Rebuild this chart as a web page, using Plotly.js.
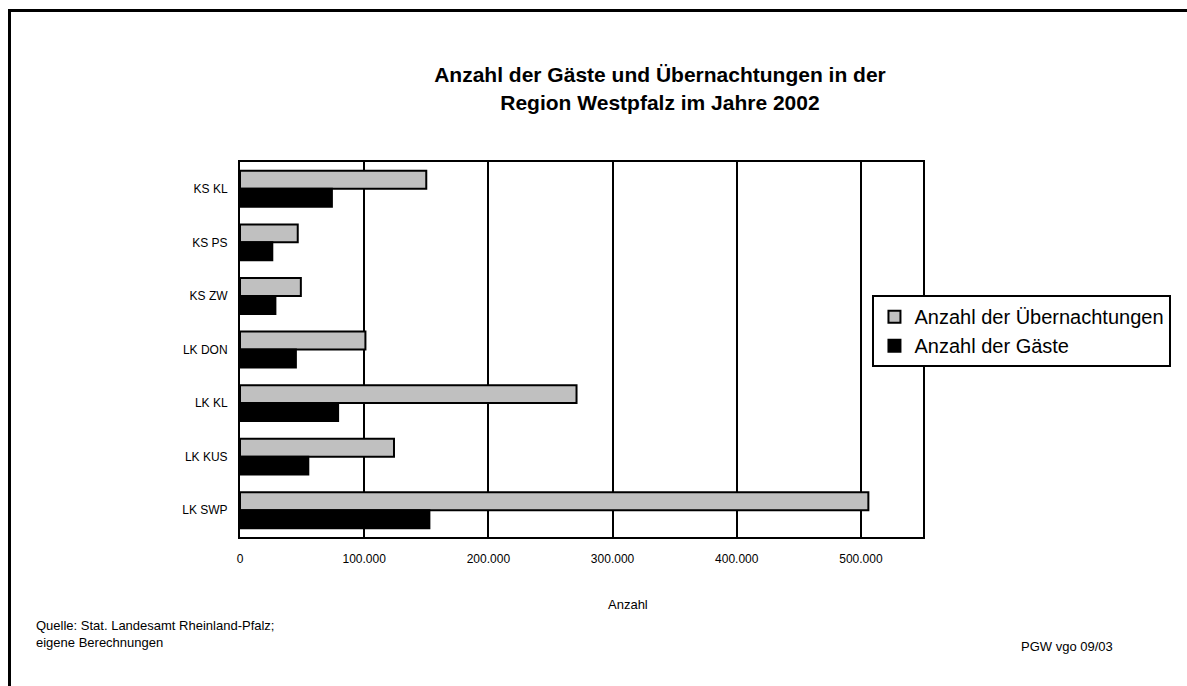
<!DOCTYPE html>
<html>
<head>
<meta charset="utf-8">
<script src="https://cdn.plot.ly/plotly-3.0.1.min.js"></script>
<style>
  html, body { margin: 0; padding: 0; background: #fff; }
  #chart { width: 1187px; height: 686px; position: absolute; left: 0; top: 0; }
  #frame { position: absolute; left: 8px; top: 9px; width: 1300px; height: 800px;
           border-left: 3px solid #000; border-top: 3px solid #000; pointer-events: none; }
</style>
</head>
<body>
<div id="chart"></div>
<div id="frame"></div>
<script>
const categories = ["KS KL", "KS PS", "KS ZW", "LK DON", "LK KL", "LK KUS", "LK SWP"];
const uebernachtungen = [150000, 46500, 49000, 101000, 271000, 124000, 506000];
const gaeste = [74000, 26000, 28500, 45000, 79000, 55000, 152500];
const seriesNames = ["Anzahl der Übernachtungen", "Anzahl der Gäste"];
const xTicks = [0, 100000, 200000, 300000, 400000, 500000];

const FONT = "Liberation Sans, Arial, Helvetica, sans-serif";

const traces = [
  {
    type: "bar", orientation: "h", name: seriesNames[0],
    y: categories, x: uebernachtungen,
    marker: { color: "#c0c0c0", line: { color: "#000", width: 2 } },
    hoverinfo: "x+y"
  },
  {
    type: "bar", orientation: "h", name: seriesNames[1],
    y: categories, x: gaeste,
    marker: { color: "#000000", line: { color: "#000", width: 2 } },
    hoverinfo: "x+y"
  }
];

const layout = {
  width: 1187, height: 686,
  paper_bgcolor: "#fff", plot_bgcolor: "#fff",
  font: { family: FONT, color: "#000", size: 12 },
  separators: ",.",
  margin: { l: 240, r: 264, t: 162, b: 149, autoexpand: false },
  barmode: "group", bargap: 0.33, bargroupgap: 0,
  title: {
    text: "<b>Anzahl der Gäste und Übernachtungen in der<br>Region Westpfalz im Jahre 2002</b>",
    font: { family: FONT, size: 21, color: "#000" },
    x: 0.556, xref: "container", xanchor: "center",
    y: 0.88, yref: "container", yanchor: "top"
  },
  xaxis: {
    range: [0, 550000], tickvals: xTicks, tickformat: ",d",
    showgrid: true, gridcolor: "#000", gridwidth: 2,
    zeroline: false,
    showline: true, linecolor: "#000", linewidth: 2, mirror: true,
    ticks: "", ticklabelstandoff: 10,
    tickfont: { family: FONT, size: 12, color: "#000" },
    fixedrange: true
  },
  yaxis: {
    autorange: "reversed", type: "category",
    showgrid: false, zeroline: false,
    showline: true, linecolor: "#000", linewidth: 2, mirror: true,
    ticks: "", ticklabelstandoff: 8,
    tickfont: { family: FONT, size: 12, color: "#000" },
    fixedrange: true
  },
  showlegend: true,
  legend: {
    x: 0.926, xanchor: "left", y: 0.645, yanchor: "top",
    bordercolor: "#000", borderwidth: 2, bgcolor: "#fff",
    font: { family: FONT, size: 20, color: "#000" },
    traceorder: "normal", itemwidth: 30
  },
  annotations: [
    { text: "Anzahl", xref: "paper", yref: "paper", x: 0.568, y: -0.181,
      xanchor: "center", yanchor: "middle", showarrow: false,
      font: { family: FONT, size: 13, color: "#000" } },
    { text: "Quelle: Stat. Landesamt Rheinland-Pfalz;<br>eigene Berechnungen",
      xref: "paper", yref: "paper", x: -0.301, y: -0.21,
      xanchor: "left", yanchor: "top", align: "left", showarrow: false,
      font: { family: FONT, size: 13, color: "#000" } },
    { text: "PGW vgo 09/03", xref: "paper", yref: "paper", x: 1.141, y: -0.293,
      xanchor: "left", yanchor: "middle", showarrow: false,
      font: { family: FONT, size: 13, color: "#000" } }
  ]
};

Plotly.newPlot("chart", traces, layout, { displayModeBar: false });
</script>
</body>
</html>
